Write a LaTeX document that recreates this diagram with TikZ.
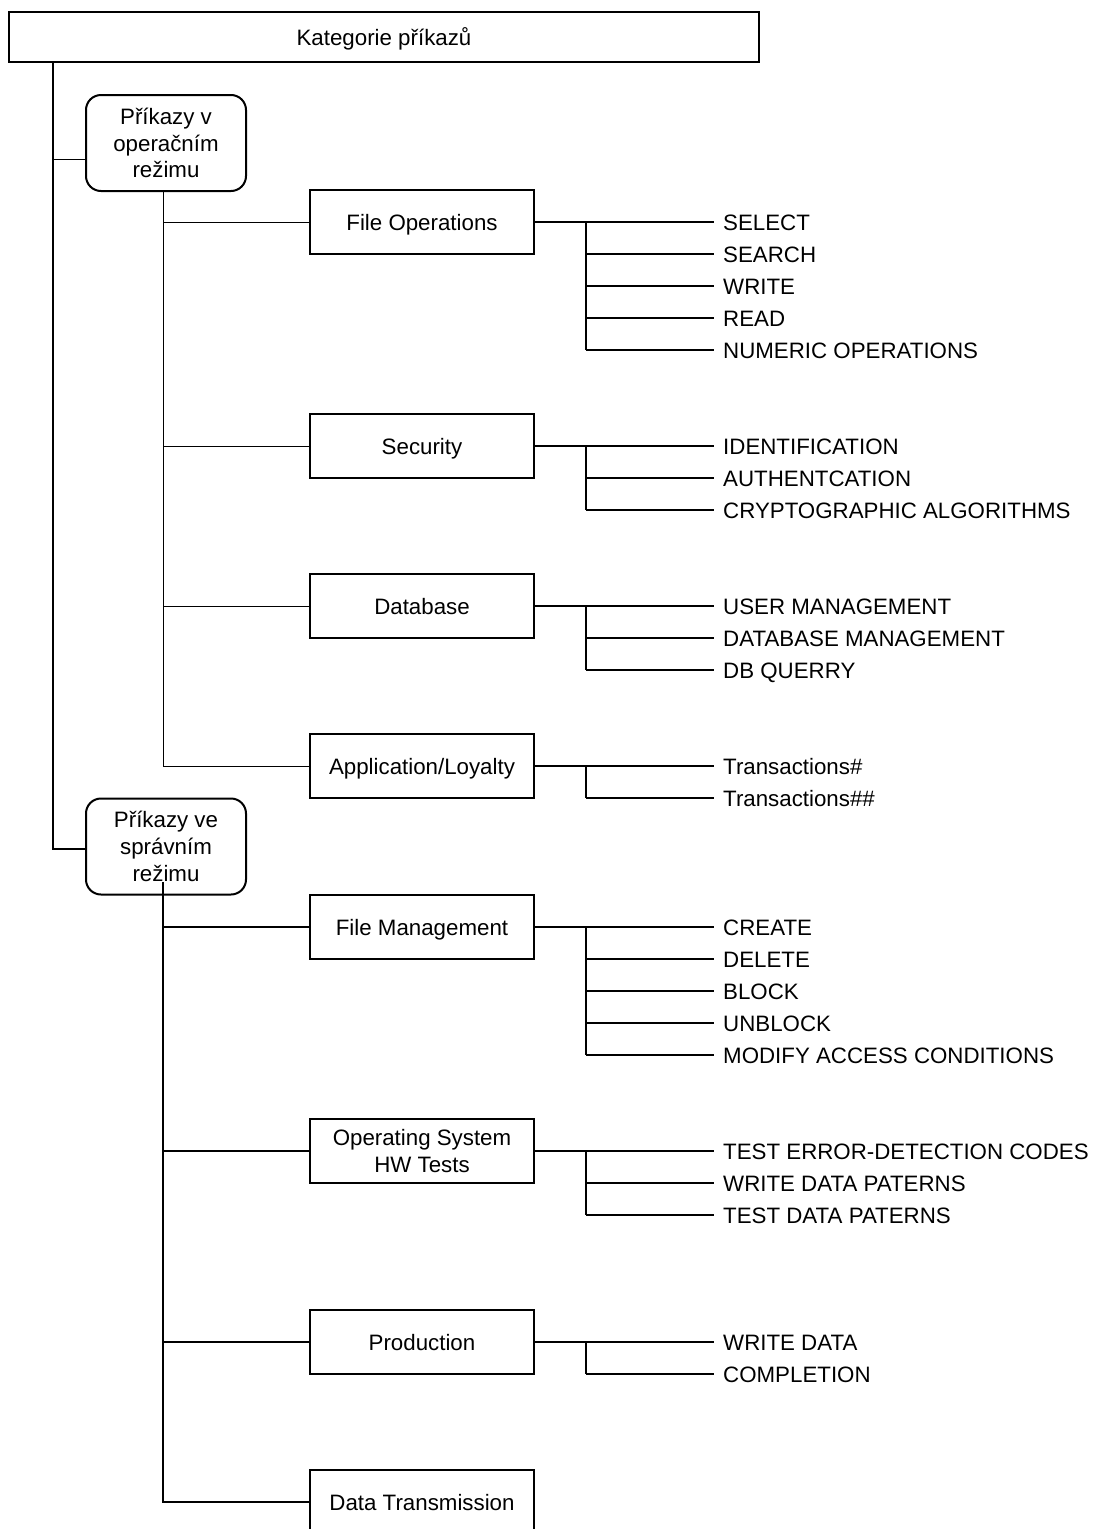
\documentclass[tikz,border=0pt]{standalone}
\usepackage{fontspec}
\setmainfont{Liberation Sans}
% leaves of one category: #1 parent node, #2 y of first leaf, #3 labels, #4 number of labels
\newcommand{\leafgroup}[4]{%
  \foreach \t [count=\i] in {#3} {\node[item] (#1-\i) at (714,#2+32*\i-32) {\t};}
  \draw[twig] (#1.east) -- (#1-1.west);
  \draw[twig] (fork |- #1-1.west) -- (fork |- #1-#4.west);
  \foreach \i in {2,...,#4} {\draw[twig] (fork |- #1-\i.west) -- (#1-\i.west);}
}
\begin{document}
\begin{tikzpicture}[x=1pt,y=-1pt,
  every node/.style={font=\fontsize{22.3}{26.7}\selectfont},
  head/.style={draw,line width=2pt,minimum width=750pt,minimum height=50pt,inner sep=0pt,text height=16pt,text depth=0pt},
  box/.style={draw,line width=2pt,minimum width=224pt,minimum height=64pt,inner sep=0pt,align=center},
  onebox/.style={box,text height=16pt,text depth=0pt},
  mode/.style={draw,line width=2pt,rounded corners=15pt,minimum width=160pt,minimum height=96pt,inner sep=0pt,align=center},
  item/.style={anchor=west,inner xsep=9pt,inner ysep=0pt,text height=16pt,text depth=0pt},
  trunk/.style={line width=2pt},
  limb/.style={line width=1pt},
  limbb/.style={line width=1.6pt},
  twig/.style={line width=2pt}]
\clip (0,0) rectangle (1096,1529);

% header and the two command modes
\node[head] (top) at (384,37) {Kategorie příkazů};
\node[mode] (op) at (166,143) {Příkazy v\\operačním\\režimu};
\node[mode] (adm) at (166,846.5) {Příkazy ve\\správním\\režimu};

\coordinate (m) at (53,62);
\coordinate (j1) at (86,159);
\coordinate (j2) at (86,849);
\draw[trunk] (m) |- (j2);
\draw[limb] (m |- j1) -- (j1);

% categories
\node[onebox] (fo)  at (422,222)  {File Operations};
\node[onebox] (sec) at (422,446)  {Security};
\node[onebox] (db)  at (422,606)  {Database};
\node[onebox] (app) at (422,766)  {Application/Loyalty};
\node[onebox] (fm)  at (422,927)  {File Management};
\node[box]    (os)  at (422,1151) {Operating System\\HW Tests};
\node[onebox] (pr)  at (422,1342) {Production};
\node[onebox] (dt)  at (422,1502) {Data Transmission};

% spines below the modes
\coordinate (s1) at (163,191);
\coordinate (s2) at (163,882);
\draw[limb] (s1) |- (app.west);
\foreach \b in {fo,sec,db} {\draw[limb] (s1 |- \b.west) -- (\b.west);}
\draw[limbb] (s2) |- (dt.west);
\foreach \b in {fm,os,pr} {\draw[limbb] (s2 |- \b.west) -- (\b.west);}

% leaves
\coordinate (fork) at (586,0);
\leafgroup{fo}{222}{SELECT,SEARCH,WRITE,READ,NUMERIC OPERATIONS}{5}
\leafgroup{sec}{446}{IDENTIFICATION,AUTHENTCATION,CRYPTOGRAPHIC ALGORITHMS}{3}
\leafgroup{db}{606}{USER MANAGEMENT,DATABASE MANAGEMENT,DB QUERRY}{3}
\leafgroup{app}{766}{Transactions\#,Transactions\#\#}{2}
\leafgroup{fm}{927}{CREATE,DELETE,BLOCK,UNBLOCK,MODIFY ACCESS CONDITIONS}{5}
\leafgroup{os}{1151}{TEST ERROR-DETECTION CODES,WRITE DATA PATERNS,TEST DATA PATERNS}{3}
\leafgroup{pr}{1342}{WRITE DATA,COMPLETION}{2}
\end{tikzpicture}
\end{document}
